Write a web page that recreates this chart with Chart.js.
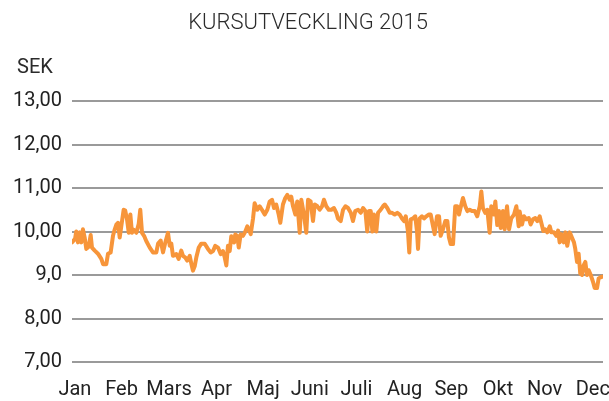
<!DOCTYPE html>
<html>
<head>
<meta charset="utf-8">
<script src="https://cdn.jsdelivr.net/npm/chart.js@4.4.1/dist/chart.umd.min.js"></script>
<style>
html,body{margin:0;padding:0;background:#fff;}
#wrap{position:relative;width:609px;height:401px;}
</style>
</head>
<body>
<div id="wrap"><canvas id="c" width="609" height="401"></canvas></div>
<script>
// ---- data ----
const chartTitle = "KURSUTVECKLING 2015";
const unitLabel = "SEK";
const monthLabels = ["Jan","Feb","Mars","Apr","Maj","Juni","Juli","Aug","Sep","Okt","Nov","Dec"];
const monthTickDays = [2,34,66.5,99,131,163,195,228,260,292,324,357];
const yTickValues = [7,8,9,10,11,12,13];
const yTickLabels = ["7,00","8,00","9,0","10,00","11,00","12,00","13,00"];

const dayOfYear = [0,2.1,2.9,4.1,5.3,6.4,7.5,8.7,9.8,11.4,12.8,13.7,15.6,17.8,20.1,21.3,23.5,24.7,26.5,28.1,29.3,30.4,31.5,32.7,33.8,35.4,36.5,37.7,38.9,40.0,41.1,42.3,44.1,45.7,46.8,48.0,49.4,50.9,53.3,55.5,57.8,59.0,60.8,62.4,64.0,65.8,67.0,68.1,69.2,71.5,73.1,74.9,76.1,77.7,79.0,80.7,81.8,82.9,84.1,85.2,86.9,88.6,91.0,93.2,95.1,96.7,98.2,100.1,101.9,103.5,104.7,105.8,106.9,108.1,109.2,111.1,111.9,113.3,114.3,115.6,117.2,118.8,120.2,121.8,122.5,124.1,125.2,127.0,128.7,130.2,132.1,133.9,135.5,137.1,138.5,140.0,141.7,142.8,144.6,146.2,147.6,149.2,150.3,151.5,153.1,154.4,156.1,157.2,159.0,160.6,161.8,163.6,165.2,166.4,168.2,169.8,171.4,172.7,174.3,176.0,177.8,179.6,181.2,182.3,184.2,185.8,187.4,189.2,191.1,192.6,194.2,196.1,197.9,199.5,201.1,202.4,203.6,204.8,205.9,207.0,208.6,209.8,211.6,213.2,214.4,216.1,217.8,219.4,221.2,223.0,224.6,226.2,227.6,228.8,230.3,231.2,232.2,233.8,235.3,236.5,237.2,238.3,239.9,241.3,242.9,244.5,245.9,247.5,248.6,250.2,251.6,252.7,254.3,255.9,257.3,258.4,259.6,261.2,262.7,264.1,265.3,266.9,268.0,269.6,271.0,272.6,274.2,276.1,277.8,279.5,280.6,281.7,283.3,284.7,286.3,287.4,289.1,290.2,291.5,292.7,293.9,295.4,296.6,298.2,299.6,301.1,303.0,304.6,306.2,306.9,308.5,309.8,311.4,313.1,314.4,316.0,317.6,319.0,320.6,321.7,323.1,324.4,325.8,327.5,328.6,330.4,332.0,333.2,334.3,335.4,337.1,338.2,339.5,341.2,342.7,344.1,345.0,346.2,347.3,348.4,349.6,350.7,351.9,353.0,354.2,355.6,357.1,358.3,359.9,361.0,362.1,362.8,364];

const priceSEK = [9.75,9.83,10.0,9.75,9.98,9.75,10.05,9.86,9.6,9.65,9.92,9.63,9.56,9.49,9.37,9.25,9.25,9.49,9.52,9.9,10.05,10.16,10.2,9.86,10.12,10.5,10.48,10.28,9.97,10.39,9.97,10.04,9.97,10.17,10.5,9.97,9.9,9.78,9.63,9.52,9.52,9.72,9.79,9.52,9.75,9.97,9.67,9.72,9.44,9.48,9.37,9.56,9.44,9.4,9.33,9.44,9.26,9.1,9.2,9.4,9.63,9.72,9.72,9.6,9.52,9.55,9.67,9.63,9.48,9.55,9.4,9.22,9.67,9.55,9.89,9.75,9.93,9.9,9.63,9.93,9.9,10.0,10.12,10.0,9.94,10.3,10.65,10.5,10.58,10.5,10.39,10.5,10.69,10.73,10.54,10.62,10.39,10.2,10.62,10.77,10.84,10.73,10.8,10.58,10.39,10.69,9.97,10.73,10.39,9.97,10.73,10.69,10.24,10.62,10.58,10.5,10.58,10.73,10.58,10.5,10.5,10.54,10.43,10.3,10.24,10.5,10.58,10.54,10.43,10.24,10.47,10.5,10.43,10.54,10.47,10.0,10.47,10.47,10.0,10.39,10.0,10.43,10.5,10.58,10.62,10.54,10.43,10.43,10.39,10.43,10.39,10.3,10.24,10.35,10.0,9.52,10.28,10.3,10.35,10.0,9.6,10.3,10.35,10.3,10.35,10.39,10.39,10.12,9.94,10.35,10.35,9.9,10.05,10.24,10.24,9.86,9.71,9.71,10.58,10.58,10.39,10.62,10.77,10.58,10.47,10.5,10.47,10.47,10.35,10.58,10.92,10.54,10.43,10.5,9.97,10.58,10.39,10.69,10.15,10.47,10.08,10.47,10.05,10.58,10.05,10.3,10.39,10.58,10.12,10.46,10.16,10.35,10.28,10.31,10.16,10.28,10.31,10.24,10.35,10.2,10.01,10.05,9.98,10.12,9.98,9.98,9.9,10.02,9.75,9.94,9.75,9.98,9.67,9.98,9.86,9.75,9.6,9.3,9.49,9.03,9.0,9.22,9.3,9.0,9.11,9.0,8.85,8.7,8.7,8.92,8.94,8.96,8.96];

// ---- chart ----
const FONT = "Roboto, 'DejaVu Sans', sans-serif";
const points = dayOfYear.map((d, i) => ({x: d, y: priceSEK[i]}));

const textPlugin = {
  id: 'texts',
  afterDraw(chart) {
    const ctx = chart.ctx;
    ctx.save();
    ctx.fillStyle = '#2b2b2b';
    ctx.textBaseline = 'middle';
    ctx.textAlign = 'center';
    ctx.font = "300 22px " + FONT;
    ctx.fillText(chartTitle, 308, 23);
    ctx.textAlign = 'left';
    ctx.font = "400 20px " + FONT;
    ctx.fillText(unitLabel, 17, 68);
    ctx.restore();
  }
};

new Chart(document.getElementById('c'), {
  type: 'line',
  data: {
    datasets: [{
      data: points,
      borderColor: '#F7953A',
      borderWidth: 4,
      pointRadius: 0,
      tension: 0,
      borderJoinStyle: 'round',
      borderCapStyle: 'round',
      fill: false
    }]
  },
  options: {
    responsive: false,
    animation: false,
    events: [],
    layout: {padding: {top: 101, right: 6, bottom: 0, left: 0}},
    plugins: {legend: {display: false}, tooltip: {enabled: false}, title: {display: false}},
    scales: {
      x: {
        type: 'linear', min: 0, max: 364,
        grid: {display: false, drawTicks: false},
        border: {display: false},
        afterBuildTicks: (s) => { s.ticks = monthTickDays.map(v => ({value: v})); },
        afterFit: (s) => { s.height = 39; s.paddingLeft = 0; s.paddingRight = 0; },
        ticks: {
          autoSkip: false, maxRotation: 0, padding: 16,
          color: '#222', font: {family: FONT, size: 20},
          callback: (v, i) => monthLabels[i]
        }
      },
      y: {
        min: 7, max: 13,
        grid: {color: '#9a9a9a', lineWidth: 2, drawTicks: false},
        border: {display: false},
        afterBuildTicks: (s) => { s.ticks = yTickValues.map(v => ({value: v})); },
        afterFit: (s) => { s.width = 72; },
        ticks: {
          padding: 10, color: '#222', font: {family: FONT, size: 20},
          callback: (v) => yTickLabels[yTickValues.indexOf(v)]
        }
      }
    }
  },
  plugins: [textPlugin]
});
</script>
</body>
</html>
